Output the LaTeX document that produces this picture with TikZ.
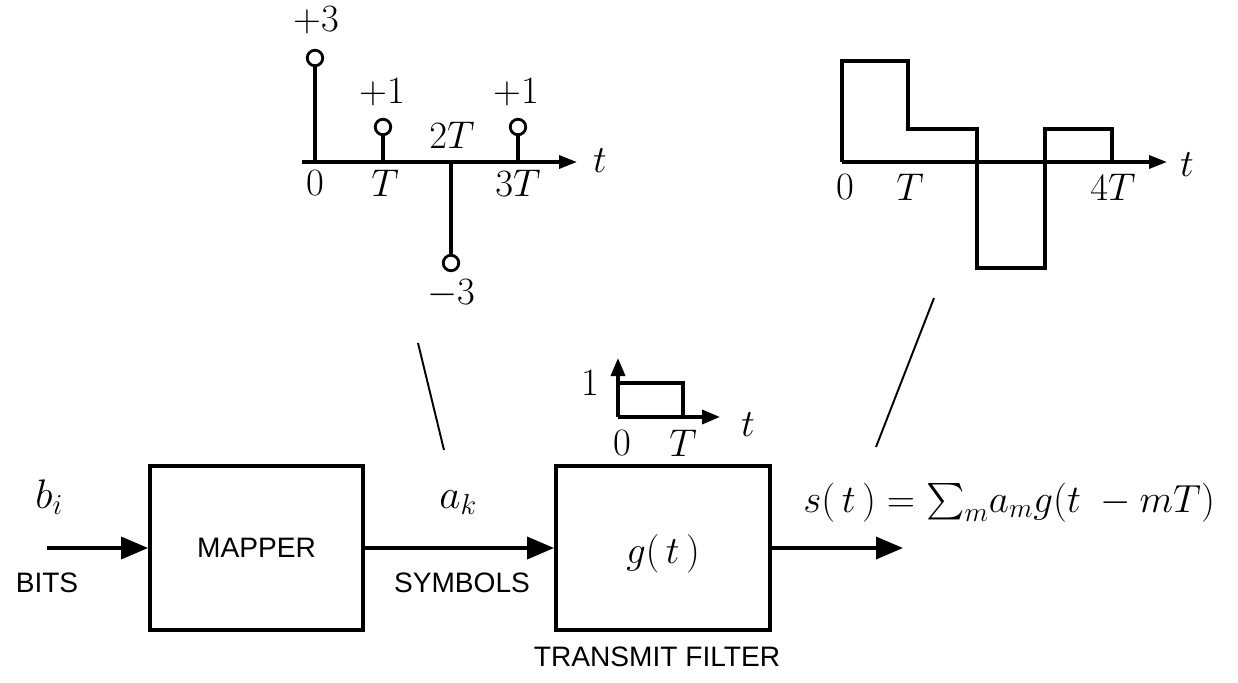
\documentclass[tikz,border=0pt]{standalone}
\usepackage{fix-cm}
\usepackage{amsmath}
\usepackage{fontspec}
\setsansfont{Liberation Sans}
\usetikzlibrary{arrows.meta}
\begin{document}
\begin{tikzpicture}[x=0.02cm,y=-0.02cm,
  mathlbl/.style={inner sep=0pt, font=\fontsize{22}{26}\selectfont},
  biglbl/.style={inner sep=0pt, font=\fontsize{23.5}{28}\selectfont},
  sflbl/.style={inner sep=0pt, font=\fontsize{16}{19}\selectfont\sffamily},
  blockbox/.style={draw, line width=2.2pt, minimum height=3.28cm, inner sep=0pt,
                   font=\fontsize{16}{19}\selectfont\sffamily},
  sig/.style={line width=2pt, -{Triangle[length=0.54cm,width=0.44cm]}},
  axisline/.style={line width=1.9pt, -{Triangle[length=0.36cm,width=0.26cm]}},
  wave/.style={line width=2.3pt, line join=miter},
  stemline/.style={line width=2pt},
  dot/.style={circle, draw, line width=1.6pt, fill=white, minimum size=0.31cm, inner sep=0pt},
  pointer/.style={line width=1.1pt}
]
\useasboundingbox (0,0) rectangle (1238,683);

% ---------- block diagram ----------
\node[blockbox, minimum width=4.26cm] (mapper) at (256.5,548) {MAPPER};
\node[blockbox, minimum width=4.28cm] (filter) at (663,548) {};
\node[mathlbl] (gt) at (663,554) {$g(\,t\,)$};

\coordinate (in) at (47,548);
\coordinate (out) at (903,548);
\draw[sig] (in) -- (mapper.west);
\draw[sig] (mapper.east) -- (filter.west);
\draw[sig] (filter.east) -- (out);

\node[biglbl, anchor=base west] (bi) at (35,508) {$b_i$};
\node[biglbl, anchor=base west] (ak) at (439,508) {$a_k$};
\node[inner sep=0pt, font=\fontsize{22.3}{27}\selectfont, anchor=base west] (st) at (803,512)
  {$s(\,t\,) = \textstyle\sum_m \! a_m g(t\;-mT)$};

\node[sflbl] (bits) at (47,583) {BITS};
\node[sflbl] (symbols) at (462,583) {SYMBOLS};
\node[sflbl] (tf) at (657,657) {TRANSMIT FILTER};

% ---------- symbol sequence plot ----------
\coordinate (ax1s) at (302,162);
\coordinate (ax1e) at (577,162);
\draw[axisline] (ax1s) -- (ax1e);

\coordinate (b0) at (315,162);
\coordinate (b1) at (383,162);
\coordinate (b2) at (451,162);
\coordinate (b3) at (518,162);
\node[dot] (p0) at (315,58) {};
\node[dot] (p1) at (383,127) {};
\node[dot] (p2) at (451,263) {};
\node[dot] (p3) at (518,127) {};
\draw[stemline] (b0) -- (p0.south);
\draw[stemline] (b1) -- (p1.south);
\draw[stemline] (b2) -- (p2.north);
\draw[stemline] (b3) -- (p3.south);

\node[mathlbl] (lp3) at (316,20) {$+3$};
\node[mathlbl] (lp1a) at (382,92) {$+1$};
\node[mathlbl] (lp1b) at (516,92) {$+1$};
\node[mathlbl] (l2T) at (452,135) {$2T$};
\node[mathlbl] (lm3) at (451,294) {$-3$};
\node[mathlbl] (l0a) at (315,183) {$0$};
\node[mathlbl] (lTa) at (385,183) {$T$};
\node[mathlbl] (l3T) at (518,183) {$3T$};
\node[mathlbl] (lta) at (600,161) {$t$};

% ---------- transmitted waveform plot ----------
\coordinate (ax2s) at (842,162);
\coordinate (ax2e) at (1167,162);
\draw[axisline] (ax2s) -- (ax2e);
\draw[wave] (ax2s) -- (842,61) -- (908,61) -- (908,129) -- (977,129) -- (977,268)
  -- (1045,268) -- (1045,129) -- (1112,129) -- (1112,162);
\node[mathlbl] (l0b) at (845,187) {$0$};
\node[mathlbl] (lTb) at (910,187) {$T$};
\node[mathlbl] (l4T) at (1113,187) {$4T$};
\node[mathlbl] (ltb) at (1187,165) {$t$};

% ---------- pulse g(t) ----------
\coordinate (go) at (618,417);
\coordinate (gy) at (618,358);
\coordinate (gx) at (720,417);
\draw[line width=2pt, -{Triangle[length=0.36cm,width=0.28cm]}] (go) -- (gy);
\draw[line width=2pt, -{Triangle[length=0.36cm,width=0.28cm]}] (go) -- (gx);
\draw[line width=2pt] (go) |- (683,383) -- (683,417);
\node[mathlbl] (g1) at (590,383) {$1$};
\node[mathlbl] (gt0) at (622,443) {$0$};
\node[mathlbl] (gtT) at (683,443) {$T$};
\node[mathlbl] (gtt) at (748,425) {$t$};

% ---------- pointer lines ----------
\coordinate (q1a) at (418,343);
\coordinate (q1b) at (444,450);
\coordinate (q2a) at (934,298);
\coordinate (q2b) at (876,447);
\draw[pointer] (q1a) -- (q1b);
\draw[pointer] (q2a) -- (q2b);
\end{tikzpicture}
\end{document}
